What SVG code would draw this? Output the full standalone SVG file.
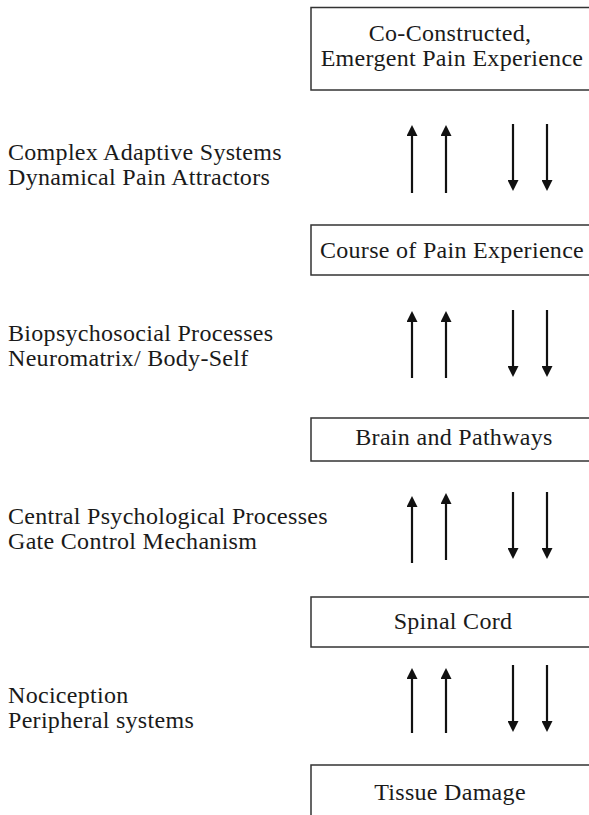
<svg xmlns="http://www.w3.org/2000/svg" width="589" height="815" viewBox="0 0 589 815">
  <style>
    .box { fill: #ffffff; stroke: #333333; stroke-width: 1.5; }
    .lbl { font-family: "Liberation Serif", "Times New Roman", serif; font-size: 24px; letter-spacing: 0.3px; fill: #1a1a1a; }
    .mid { text-anchor: middle; }
    .arr { stroke: #111111; stroke-width: 2.2; fill: none; marker-end: url(#head); }
  </style>
  <defs>
    <marker id="head" markerUnits="userSpaceOnUse" markerWidth="11" markerHeight="11" viewBox="0 0 11 11" refX="8" refY="5.5" orient="auto">
      <path d="M0,0 L11,5.5 L0,11 z" fill="#111111"/>
    </marker>
  </defs>

  <rect width="589" height="815" fill="#ffffff"/>

  <!-- levels of the pain model, top to bottom -->
  <g id="node-emergent">
    <rect class="box" x="311" y="7.5" width="285" height="82.5"/>
    <text class="lbl mid" x="450" y="41">Co-Constructed,</text>
    <text class="lbl mid" x="452" y="66">Emergent Pain Experience</text>
  </g>
  <g id="node-course">
    <rect class="box" x="311" y="225" width="285" height="50"/>
    <text class="lbl mid" x="452" y="258">Course of Pain Experience</text>
  </g>
  <g id="node-brain">
    <rect class="box" x="311" y="418" width="285" height="43"/>
    <text class="lbl mid" x="454" y="445">Brain and Pathways</text>
  </g>
  <g id="node-spinal">
    <rect class="box" x="311" y="597" width="285" height="50"/>
    <text class="lbl mid" x="453" y="629">Spinal Cord</text>
  </g>
  <g id="node-tissue">
    <rect class="box" x="311" y="765" width="285" height="60"/>
    <text class="lbl mid" x="450" y="800">Tissue Damage</text>
  </g>

  <!-- processes between levels -->
  <g id="labels">
    <text class="lbl" x="8" y="160">Complex Adaptive Systems</text>
    <text class="lbl" x="8" y="185">Dynamical Pain Attractors</text>
    <text class="lbl" x="8" y="341">Biopsychosocial Processes</text>
    <text class="lbl" x="8" y="366">Neuromatrix/ Body-Self</text>
    <text class="lbl" x="8" y="524">Central Psychological Processes</text>
    <text class="lbl" x="8" y="549">Gate Control Mechanism</text>
    <text class="lbl" x="8" y="703">Nociception</text>
    <text class="lbl" x="8" y="728">Peripheral systems</text>
  </g>

  <!-- bottom-up and top-down flows -->
  <g id="connectors">
    <line class="arr" x1="412" y1="193" x2="412" y2="128"/>
    <line class="arr" x1="446" y1="193" x2="446" y2="128"/>
    <line class="arr" x1="513" y1="124" x2="513" y2="188"/>
    <line class="arr" x1="547" y1="124" x2="547" y2="188"/>

    <line class="arr" x1="412" y1="378" x2="412" y2="314"/>
    <line class="arr" x1="446" y1="378" x2="446" y2="314"/>
    <line class="arr" x1="513" y1="310" x2="513" y2="374"/>
    <line class="arr" x1="547" y1="310" x2="547" y2="374"/>

    <line class="arr" x1="412" y1="563" x2="412" y2="499"/>
    <line class="arr" x1="446" y1="560" x2="446" y2="496"/>
    <line class="arr" x1="513" y1="492" x2="513" y2="556"/>
    <line class="arr" x1="547" y1="492" x2="547" y2="556"/>

    <line class="arr" x1="412" y1="733" x2="412" y2="671"/>
    <line class="arr" x1="446" y1="733" x2="446" y2="671"/>
    <line class="arr" x1="513" y1="665" x2="513" y2="729"/>
    <line class="arr" x1="547" y1="665" x2="547" y2="729"/>
  </g>
</svg>
